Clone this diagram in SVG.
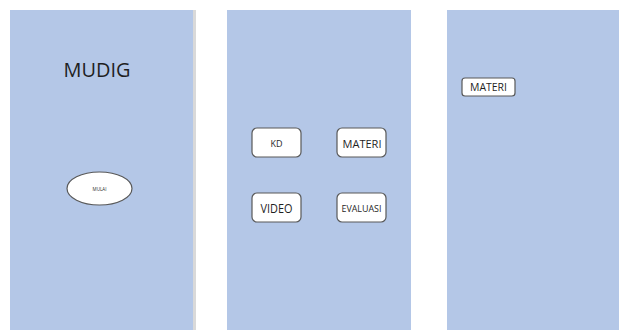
<svg xmlns="http://www.w3.org/2000/svg" width="619" height="330" viewBox="0 0 619 330">
  <defs>
    <style>
      .screen { fill: #b4c7e7; }
      .shadow { fill: #d9d9d9; }
      .btn { fill: #ffffff; stroke: #595959; stroke-width: 1.2; }
      .lbl { font-family: "Open Sans", "Liberation Sans", sans-serif; fill: #1f1f1f; text-anchor: middle; dominant-baseline: central; }
    </style>
  </defs>

  <!-- screen panels -->
  <g id="screen-home">
    <rect class="shadow" x="12" y="10" width="184" height="320"/>
    <rect class="screen" x="10" y="10" width="183" height="320"/>
    <text class="lbl" x="97" y="69" font-size="19.5" textLength="67" lengthAdjust="spacingAndGlyphs" fill="#141414">MUDIG</text>
  </g>
  <g id="btn-mulai">
    <ellipse class="btn" cx="99.5" cy="188.5" rx="32.5" ry="16.5"/>
    <text class="lbl" x="99.5" y="188.5" font-size="4.5">MULAI</text>
  </g>

  <g id="screen-menu">
    <rect class="screen" x="227" y="10" width="184" height="320"/>
  </g>
  <g id="btn-kd">
    <rect class="btn" x="252" y="128" width="49" height="29" rx="5"/>
    <text class="lbl" x="276.5" y="143" font-size="8.5" textLength="12" lengthAdjust="spacingAndGlyphs">KD</text>
  </g>
  <g id="btn-materi">
    <rect class="btn" x="337" y="128" width="49" height="29" rx="5"/>
    <text class="lbl" x="362" y="143" font-size="11" textLength="39" lengthAdjust="spacingAndGlyphs">MATERI</text>
  </g>
  <g id="btn-video">
    <rect class="btn" x="252" y="193" width="49" height="29" rx="5"/>
    <text class="lbl" x="276.5" y="208" font-size="12" textLength="32" lengthAdjust="spacingAndGlyphs">VIDEO</text>
  </g>
  <g id="btn-evaluasi">
    <rect class="btn" x="337" y="193" width="49" height="29" rx="5"/>
    <text class="lbl" x="361.5" y="208" font-size="9.5" textLength="40" lengthAdjust="spacingAndGlyphs">EVALUASI</text>
  </g>

  <g id="screen-materi">
    <rect class="screen" x="447" y="10" width="172" height="320"/>
  </g>
  <g id="title-materi">
    <rect class="btn" x="462" y="78" width="53" height="18" rx="3"/>
    <text class="lbl" x="488.5" y="87" font-size="10" textLength="37" lengthAdjust="spacingAndGlyphs">MATERI</text>
  </g>

  <g id="connectors"/>
</svg>
